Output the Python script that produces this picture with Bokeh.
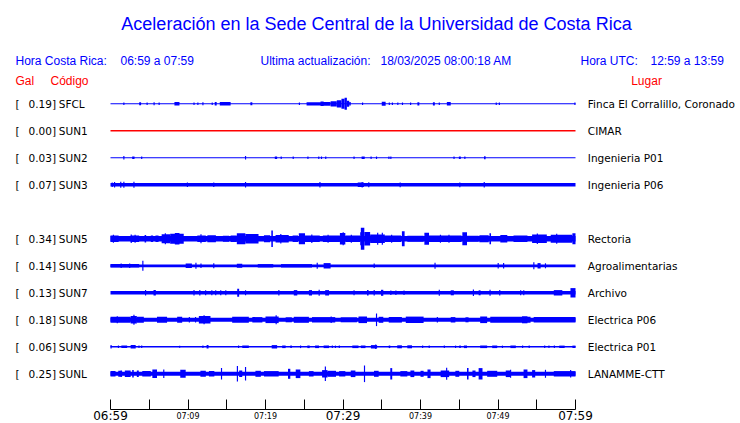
from bokeh.plotting import figure
from bokeh.models import Range1d, FixedTicker, LinearAxis, Label, LabelSet, ColumnDataSource
from bokeh.core.properties import value
from bokeh.embed import file_html
from bokeh.resources import INLINE

# ---------------- data ----------------
TITLE = "Aceleración en la Sede Central de la Universidad de Costa Rica"
CR_LABEL = "Hora Costa Rica:"
CR_TIME = "06:59 a 07:59"
UPD_LABEL = "Ultima actualización:"
UPD_TIME = "18/03/2025 08:00:18 AM"
UTC_LABEL = "Hora UTC:"
UTC_TIME = "12:59 a 13:59"

CODES = ["SFCL", "SUN1", "SUN2", "SUN3", "SUN5", "SUN6", "SUN7", "SUN8", "SUN9", "SUNL"]
ROWS = [0, 1, 2, 3, 5, 6, 7, 8, 9, 10]
PEAK_GAL = [0.19, 0.00, 0.03, 0.07, 0.34, 0.14, 0.13, 0.18, 0.06, 0.25]
PLACES = ["Finca El Corralillo, Coronado", "CIMAR", "Ingenieria P01", "Ingenieria P06",
          "Rectoria", "Agroalimentarias", "Archivo", "Electrica P06", "Electrica P01",
          "LANAMME-CTT"]
# background noise envelope (half amplitude, display units)
BASE_AMP = [0.5, 0.8, 0.5, 1.7, 2.7, 1.4, 1.7, 2.0, 0.7, 2.0]

# minutes after 06:59
BIG_TICK_MIN = [0, 30, 60]
BIG_TICK_LABELS = ["06:59", "07:29", "07:59"]
OTHER_TICK_MIN = [5, 10, 15, 20, 25, 35, 40, 45, 50, 55]
SMALL_TICK_MIN = [10, 20, 40, 50]
SMALL_TICK_LABELS = ["07:09", "07:19", "07:39", "07:49"]

# envelope bursts: (start minute, end minute, half amplitude)
SFCL_BURSTS = [(1.65, 1.8, 1.3), (3.7, 3.95, 1.5), (4.65, 4.8, 1.2), (5.55, 5.7, 1.5), (6.2, 6.35, 1.2),
               (8.25, 8.9, 1.7), (10.7, 10.85, 1.2), (11.2, 11.35, 1.2), (11.85, 12.0, 1.5),
               (13.05, 13.2, 1.3), (13.45, 13.7, 1.7), (14.1, 15.5, 1.7), (18.05, 18.3, 1.5),
               (24.3, 24.45, 1.2), (25.3, 27.3, 1.6), (27.1, 27.5, 2.3), (27.3, 28.4, 1.9),
               (28.4, 29.2, 2.6), (29.2, 29.8, 3.6), (29.8, 30.2, 5.0), (30.2, 30.5, 6.0),
               (30.5, 30.8, 3.0), (30.8, 31.0, 1.8), (32.45, 32.6, 1.2), (35.0, 35.5, 2.0),
               (35.9, 36.05, 1.2), (36.3, 36.45, 1.2), (37.0, 37.15, 1.2), (37.6, 37.75, 1.2),
               (38.65, 38.8, 1.2), (39.6, 39.85, 1.6), (41.6, 41.85, 1.6), (42.35, 42.5, 1.2),
               (43.4, 43.9, 1.8), (49.7, 49.85, 1.3), (50.1, 50.25, 1.3), (59.85, 60.0, 1.2)]
SUN1_BURSTS = []
SUN2_BURSTS = [(1.65, 1.8, 1.7), (2.8, 3.1, 1.3), (3.95, 4.1, 1.2), (17.35, 17.5, 1.7), (21.2, 21.5, 1.3),
               (21.95, 22.1, 1.2), (23.5, 23.65, 1.2), (25.4, 25.55, 1.2), (26.8, 26.95, 1.3),
               (27.15, 27.3, 1.2), (27.7, 27.85, 1.3), (31.35, 31.5, 1.2), (32.4, 32.8, 1.3),
               (33.55, 33.7, 1.2), (34.25, 34.4, 1.2), (35.85, 36.0, 1.2), (36.1, 36.25, 1.2),
               (44.25, 44.4, 1.2), (44.95, 45.2, 1.3), (45.65, 45.8, 1.2), (48.2, 48.4, 1.5)]
SUN3_BURSTS = [(0.15, 0.3, 2.3), (0.45, 0.6, 2.8), (1.25, 1.4, 3.0), (1.65, 1.8, 3.0), (2.95, 3.1, 3.0),
               (9.85, 10.0, 2.2), (13.25, 13.4, 2.2), (17.35, 17.5, 2.7), (26.95, 27.1, 2.7),
               (31.9, 32.7, 2.3), (32.4, 32.55, 2.8), (33.25, 33.4, 2.5), (37.3, 37.45, 2.4),
               (45.0, 45.15, 2.4), (48.15, 48.3, 2.8)]
SUN5_BURSTS = [(0.0, 1.05, 3.3), (0.3, 0.45, 4.0), (2.6, 3.7, 3.3), (2.6, 2.75, 4.3), (3.1, 3.25, 4.0),
               (4.4, 4.6, 3.7), (5.2, 5.5, 3.3), (5.8, 6.2, 3.3), (6.6, 7.7, 4.5), (7.0, 7.15, 5.5),
               (7.7, 9.45, 5.0), (8.3, 8.9, 5.7), (11.2, 12.3, 3.3), (11.6, 11.75, 4.5),
               (12.5, 13.6, 3.5), (14.5, 15.3, 3.0), (15.5, 16.3, 3.3), (16.3, 17.4, 5.5),
               (17.4, 19.1, 4.7), (19.8, 20.6, 3.5), (20.75, 20.95, 8.3), (21.3, 23.0, 3.7),
               (21.9, 22.05, 4.7), (23.5, 24.2, 3.3), (24.3, 25.1, 5.5), (25.1, 27.0, 3.3),
               (25.9, 26.05, 4.3), (27.4, 29.6, 3.3), (28.0, 28.15, 4.0), (29.6, 30.3, 5.8),
               (29.95, 30.1, 6.5), (30.3, 32.2, 3.3), (31.0, 31.15, 4.0), (32.2, 32.3, 6.5),
               (32.3, 32.75, 11.0), (32.75, 33.5, 6.7), (33.5, 34.0, 4.3), (34.0, 35.4, 4.3),
               (34.4, 34.55, 6.0), (35.0, 35.15, 6.0), (35.4, 37.5, 3.3), (36.2, 36.35, 4.0),
               (37.6, 37.95, 7.5), (38.3, 40.4, 3.0), (40.5, 41.1, 6.0), (41.1, 45.3, 3.3),
               (42.5, 42.65, 4.0), (43.6, 43.75, 4.0), (45.4, 46.0, 6.5), (46.0, 47.5, 3.0),
               (47.6, 48.8, 3.5), (48.9, 49.1, 5.5), (50.3, 51.2, 3.7), (52.0, 53.8, 3.3),
               (54.4, 56.3, 4.3), (55.0, 55.15, 5.3), (56.8, 59.6, 4.0), (57.5, 57.65, 5.0),
               (59.6, 60.0, 5.5)]
SUN6_BURSTS = [(0.0, 3.7, 1.7), (1.3, 1.45, 2.3), (2.4, 2.55, 2.3), (4.1, 4.25, 5.0), (9.7, 10.5, 2.3),
               (10.95, 11.1, 3.0), (11.6, 11.75, 2.3), (13.25, 13.4, 2.5), (16.3, 17.0, 2.0),
               (19.0, 21.0, 1.7), (22.0, 26.0, 1.7), (26.6, 26.75, 3.0), (27.5, 28.4, 2.7),
               (33.95, 34.1, 2.3), (41.8, 41.95, 3.0), (49.95, 50.1, 2.7), (50.65, 50.8, 2.7),
               (54.55, 54.7, 3.5), (55.1, 55.5, 2.7), (56.05, 56.2, 2.5)]
SUN7_BURSTS = [(4.45, 4.6, 2.7), (5.55, 5.85, 2.7), (10.7, 10.85, 2.7), (11.45, 11.6, 2.7),
               (12.2, 12.35, 2.5), (13.0, 13.15, 2.5), (13.5, 13.65, 2.5), (14.15, 14.3, 2.5),
               (14.8, 14.95, 2.5), (16.35, 16.6, 4.0), (17.35, 17.5, 2.5), (21.65, 21.8, 2.7),
               (23.65, 24.1, 2.7), (25.6, 26.0, 2.7), (26.85, 27.0, 3.0), (27.7, 28.2, 2.7),
               (31.35, 31.5, 2.5), (33.1, 33.3, 2.7), (33.95, 34.1, 2.7), (34.9, 35.2, 3.0),
               (36.1, 36.25, 2.3), (36.75, 36.9, 2.3), (37.8, 37.95, 2.3), (42.35, 42.5, 3.0),
               (43.9, 44.3, 2.5), (46.75, 46.9, 3.3), (47.5, 47.75, 2.5), (48.9, 49.05, 3.0),
               (50.15, 50.3, 2.7), (52.85, 53.0, 2.5), (53.25, 53.4, 2.5), (57.2, 58.3, 2.7),
               (59.35, 60.0, 4.7)]
SUN8_BURSTS = [(0.0, 2.6, 3.0), (0.8, 0.95, 3.5), (2.6, 3.4, 3.7), (2.95, 3.1, 5.0), (3.4, 4.3, 3.0),
               (6.0, 7.3, 3.0), (8.6, 9.25, 3.0), (10.1, 10.25, 2.7), (10.9, 11.05, 2.7),
               (11.4, 12.9, 3.8), (12.0, 12.15, 4.5), (15.7, 17.85, 3.0), (18.3, 19.6, 2.7),
               (20.0, 21.7, 3.3), (21.3, 21.45, 4.5), (22.6, 23.4, 2.5), (23.65, 25.6, 3.0),
               (26.0, 29.0, 2.7), (28.4, 28.55, 3.3), (29.7, 31.8, 2.5), (32.0, 33.1, 3.3),
               (34.25, 34.4, 6.3), (34.6, 35.2, 3.0), (35.9, 37.6, 2.8), (38.1, 40.4, 3.2),
               (42.1, 42.25, 2.7), (43.9, 44.5, 2.7), (45.8, 46.2, 2.5), (47.7, 48.6, 3.3),
               (49.0, 54.2, 3.0), (53.1, 53.8, 3.5), (54.6, 60.0, 2.7)]
SUN9_BURSTS = [(0.0, 0.15, 1.7), (0.95, 1.1, 1.3), (1.4, 2.15, 1.3), (2.6, 3.25, 1.7), (3.6, 3.75, 1.3),
               (3.95, 4.1, 1.3), (8.85, 9.0, 1.0), (11.85, 12.0, 1.2), (12.4, 12.65, 1.7),
               (16.45, 16.6, 1.3), (17.0, 17.85, 1.3), (20.8, 21.5, 1.7), (22.15, 22.6, 1.3),
               (23.2, 23.4, 1.3), (24.45, 24.6, 1.3), (25.4, 25.7, 1.3), (26.4, 26.9, 1.3),
               (27.5, 28.2, 1.3), (28.55, 28.7, 1.2), (28.95, 29.1, 1.2), (29.45, 29.6, 1.2),
               (31.2, 32.0, 1.3), (32.3, 32.9, 1.3), (33.6, 34.4, 1.7), (34.15, 34.3, 2.3),
               (35.9, 36.1, 1.3), (37.0, 37.6, 1.5), (38.3, 38.9, 1.5), (40.2, 40.35, 1.2),
               (41.05, 41.2, 1.2), (43.0, 43.15, 1.2), (44.45, 44.6, 1.2), (45.0, 45.2, 1.3),
               (45.6, 46.0, 1.3), (47.7, 48.6, 1.3), (49.25, 49.9, 1.3), (50.5, 50.65, 1.2),
               (51.6, 52.3, 1.3), (53.1, 53.25, 1.2), (53.95, 54.1, 1.2), (55.95, 56.1, 1.2),
               (56.5, 56.65, 1.2), (57.2, 57.35, 1.2), (57.9, 58.6, 1.2), (59.6, 60.0, 1.2)]
SUNL_BURSTS = [(0.0, 0.65, 2.7), (1.0, 1.5, 3.0), (1.3, 1.45, 3.3), (1.85, 2.6, 3.3), (2.8, 3.0, 3.7),
               (3.4, 3.65, 3.3), (4.1, 5.2, 2.7), (5.4, 6.0, 4.3), (6.8, 6.95, 4.3), (9.0, 9.7, 4.0),
               (11.6, 12.3, 3.0), (12.7, 13.4, 2.7), (14.25, 14.4, 5.7), (16.3, 16.45, 7.7),
               (16.6, 17.0, 3.3), (17.35, 17.5, 6.7), (18.7, 19.4, 3.0), (19.8, 21.7, 2.7),
               (22.9, 23.2, 5.0), (23.9, 24.5, 4.3), (25.6, 26.2, 2.7), (27.3, 28.0, 3.7),
               (27.65, 27.8, 7.3), (28.0, 29.1, 3.0), (29.5, 30.3, 2.7), (31.0, 31.6, 3.3),
               (32.7, 32.85, 8.3), (34.0, 34.6, 3.0), (36.1, 36.35, 5.7), (37.4, 38.3, 2.7),
               (38.7, 39.2, 3.3), (40.0, 40.4, 3.0), (40.9, 41.3, 4.3), (42.6, 43.7, 3.3),
               (43.3, 43.45, 6.0), (44.5, 45.0, 3.0), (46.0, 46.2, 5.7), (46.7, 47.1, 3.3),
               (47.5, 48.0, 5.7), (48.6, 49.9, 3.0), (51.0, 51.6, 3.3), (51.55, 51.7, 4.0),
               (53.3, 53.8, 4.3), (54.4, 54.8, 3.7), (56.05, 56.2, 4.0), (57.2, 60.0, 2.7),
               (59.3, 59.45, 3.7)]
STATION_BURSTS = [SFCL_BURSTS, SUN1_BURSTS, SUN2_BURSTS, SUN3_BURSTS, SUN5_BURSTS,
                  SUN6_BURSTS, SUN7_BURSTS, SUN8_BURSTS, SUN9_BURSTS, SUNL_BURSTS]

# ---------------- layout (page pixels) ----------------
CANVAS_W, CANVAS_H = 740, 423
TRACE_X0, TRACE_X1 = 110.0, 575.0      # page x of first / last minute
ROW0_Y = 103.3                          # page y of first trace
ROW_PX = 27.0
SPAN_MIN = 60.0
AXIS_Y = 408.5
BLUE = "#0000ff"
RED = "#ff0000"


def xd(page_x):
    return (page_x - TRACE_X0) / (TRACE_X1 - TRACE_X0) * SPAN_MIN


def yd(page_y):
    return (page_y - ROW0_Y) / ROW_PX


p = figure(frame_width=CANVAS_W, frame_height=CANVAS_H,
           min_border_left=0, min_border_right=0, min_border_top=0, min_border_bottom=0,
           x_range=Range1d(xd(0), xd(CANVAS_W)),
           y_range=Range1d(yd(CANVAS_H), yd(0)),
           x_axis_type=None, y_axis_type=None, title=None,
           output_backend="svg", toolbar_location=None)
p.outline_line_color = None
p.background_fill_color = "white"
p.border_fill_color = "white"

# traces
left, right, top, bottom, color = [], [], [], [], []
for row, base, gal, bursts in zip(ROWS, BASE_AMP, PEAK_GAL, STATION_BURSTS):
    c = RED if gal == 0 else BLUE
    segs = [(0.0, SPAN_MIN, base)] + list(bursts)
    for s, e, a in segs:
        left.append(s)
        right.append(e)
        top.append(row - a / ROW_PX)
        bottom.append(row + a / ROW_PX)
        color.append(c)
src = ColumnDataSource(dict(left=left, right=right, top=top, bottom=bottom, color=color))
p.quad(left="left", right="right", top="top", bottom="bottom", fill_color="color",
       line_color=None, source=src)

# time axis, drawn at a fixed data location inside the frame
ax = LinearAxis(ticker=FixedTicker(ticks=BIG_TICK_MIN, minor_ticks=OTHER_TICK_MIN),
                fixed_location=yd(AXIS_Y), bounds=(0, SPAN_MIN),
                major_tick_in=10, major_tick_out=0, minor_tick_in=10, minor_tick_out=0,
                major_label_overrides={m: t for m, t in zip(BIG_TICK_MIN, BIG_TICK_LABELS)},
                major_label_text_font="DejaVu Sans", major_label_text_font_size="12px",
                major_label_text_color="black", major_label_standoff=0,
                axis_line_color="black", major_tick_line_color="black",
                minor_tick_line_color="black", axis_line_width=1)
p.add_layout(ax, "below")

small_src = ColumnDataSource(dict(x=SMALL_TICK_MIN, t=SMALL_TICK_LABELS,
                                  y=[yd(418.5)] * len(SMALL_TICK_MIN)))
p.add_layout(LabelSet(x="x", y="y", text="t", source=small_src, text_font=value("DejaVu Sans"),
                      text_font_size="8px", text_color="black", text_align="center",
                      text_baseline="alphabetic"))

# station labels
lab_src = ColumnDataSource(dict(
    y=[r + 4.0 / ROW_PX for r in ROWS],
    br=["["] * len(ROWS),
    gal=[f"{g:.2f}]" for g in PEAK_GAL],
    code=CODES,
    place=PLACES,
))
common = dict(source=lab_src, y="y", text_font=value("DejaVu Sans"), text_font_size="10.5px",
              text_color="black", text_baseline="alphabetic")
p.add_layout(LabelSet(x=xd(15), text="br", text_align="left", **common))
p.add_layout(LabelSet(x=xd(55.5), text="gal", text_align="right", **common))
p.add_layout(LabelSet(x=xd(58.3), text="code", text_align="left", **common))
p.add_layout(LabelSet(x=xd(587.3), text="place", text_align="left", **common))


# title and header
def add_text(txt, px, py, size, col, align="left", font="Liberation Sans"):
    p.add_layout(Label(x=xd(px), y=yd(py), text=txt, text_font=font, text_font_size=size,
                       text_color=col, text_align=align, text_baseline="alphabetic"))


add_text(TITLE, 376, 23.5, "18px", BLUE, align="center")
add_text(CR_LABEL, 15, 60.5, "12px", BLUE)
add_text(CR_TIME, 120, 60.5, "12px", BLUE)
add_text(UPD_LABEL, 260, 60.5, "12px", BLUE)
add_text(UPD_TIME, 380, 60.5, "12px", BLUE)
add_text(UTC_LABEL, 580, 60.5, "12px", BLUE)
add_text(UTC_TIME, 650, 60.5, "12px", BLUE)
add_text("Gal", 15, 80.5, "12px", RED)
add_text("Código", 50, 80.5, "12px", RED)
add_text("Lugar", 630.7, 80.5, "12px", RED)

open("out.html", "w").write(file_html(p, INLINE))
